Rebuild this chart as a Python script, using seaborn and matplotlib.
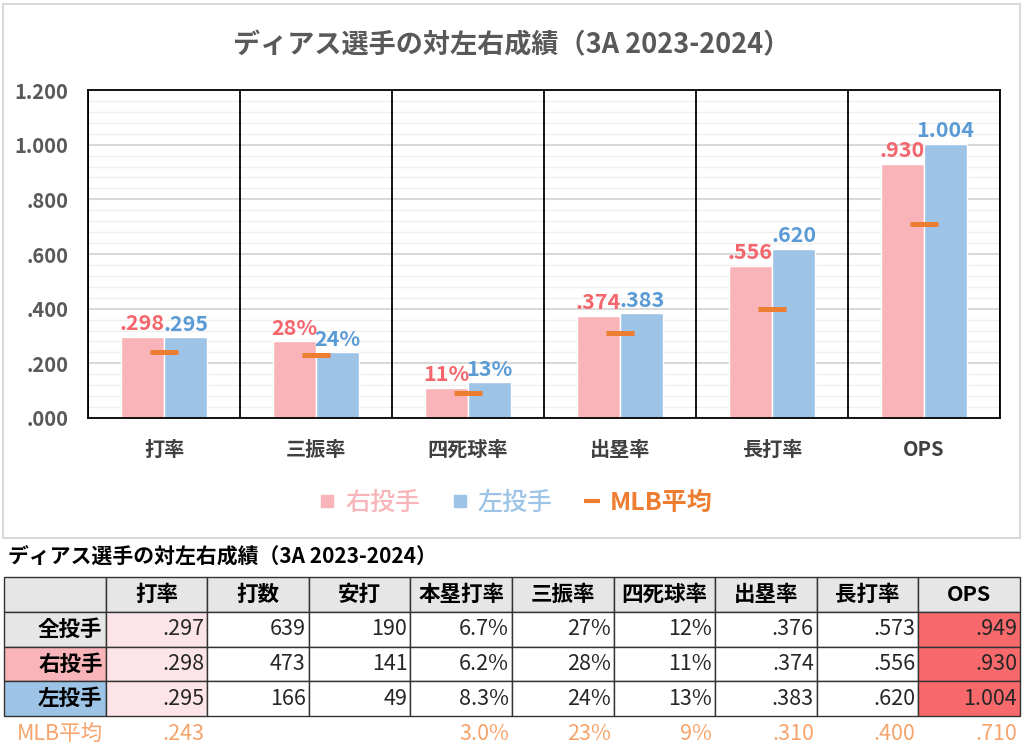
import numpy as np
import pandas as pd
import matplotlib.pyplot as plt
import seaborn as sns
from matplotlib.lines import Line2D
from matplotlib.patches import Rectangle

# Chart data
stats = ['打率', '三振率', '四死球率', '出塁率', '長打率', 'OPS']
vs_rhp = [0.298, 0.28, 0.11, 0.374, 0.556, 0.930]
vs_lhp = [0.295, 0.24, 0.13, 0.383, 0.620, 1.004]
mlb_avg = [0.243, 0.23, 0.09, 0.310, 0.400, 0.710]
pct_stats = ['三振率', '四死球率']
y_ticks = [0, 0.2, 0.4, 0.6, 0.8, 1.0, 1.2]
y_ticklabels = ['.000', '.200', '.400', '.600', '.800', '1.000', '1.200']

# Table data
tbl_cols = ['', '打率', '打数', '安打', '本塁打率', '三振率', '四死球率', '出塁率', '長打率', 'OPS']
row_all = ['全投手', '.297', '639', '190', '6.7%', '27%', '12%', '.376', '.573', '.949']
row_rhp = ['右投手', '.298', '473', '141', '6.2%', '28%', '11%', '.374', '.556', '.930']
row_lhp = ['左投手', '.295', '166', '49', '8.3%', '24%', '13%', '.383', '.620', '1.004']
row_mlb = ['MLB平均', '.243', '', '', '3.0%', '23%', '9%', '.310', '.400', '.710']

# Colours
pink = '#F8B4B8'
blue = '#9DC3E6'
red_txt = '#F4666C'
blue_txt = '#5B9BD5'
orange = '#ED7D31'
light_orange = '#F5A46C'
gray_txt = '#595959'

sns.set_theme(style='white')
plt.rcParams['font.family'] = ['Noto Sans CJK JP', 'DejaVu Sans']


def fmt(stat, v):
    # percent for rate stats, baseball style otherwise
    return f'{v:.0%}' if stat in pct_stats else f'{v:.3f}'.lstrip('0')


df = pd.DataFrame({
    '指標': stats * 2,
    '値': vs_rhp + vs_lhp,
    '投手': ['右投手'] * len(stats) + ['左投手'] * len(stats)})

fig = plt.figure(figsize=(10.24, 7.51), dpi=100)

# Light frame around chart
fig.patches.append(Rectangle((3 / 1024, 1 - 538 / 751), 1017 / 1024, 534 / 751,
                             transform=fig.transFigure, fill=False,
                             edgecolor='#D9D9D9', lw=1.5))

ax = fig.add_axes([88 / 1024, 1 - 418 / 751, 912 / 1024, 328 / 751])

sns.barplot(
    data=df, x='指標', y='値', hue='投手',
    palette={'右投手': pink, '左投手': blue},
    width=0.57, saturation=1, legend=False, ax=ax, zorder=2)

# Value labels
for cont, vals, col in zip(ax.containers, [vs_rhp, vs_lhp], [red_txt, blue_txt]):
    ax.bar_label(cont, labels=[fmt(s, v) for s, v in zip(stats, vals)],
                 color=col, fontsize=15.5, fontweight='bold', padding=2)

# MLB average markers
ax.scatter(np.arange(len(stats)), mlb_avg, marker='_', s=400,
           linewidths=3.6, color=orange, zorder=4)

# Category separators
for b in np.arange(len(stats) + 1) - 0.5:
    ax.axvline(b, color='black', lw=1.3, zorder=3)

ax.set_xlim(-0.5, len(stats) - 0.5)
ax.set_ylim(0, 1.2)
ax.set_yticks(y_ticks)
ax.set_yticklabels(y_ticklabels)
ax.set_yticks(np.arange(0, 1.2, 0.04), minor=True)
ax.grid(which='major', axis='y', color='#D9D9D9', lw=1.5)
ax.grid(which='minor', axis='y', color='#EFEFEF', lw=1)
ax.set_axisbelow(True)
ax.set_xlabel('')
ax.set_ylabel('')
ax.tick_params(axis='x', length=0, pad=15, labelsize=14.5, labelcolor='#404040')
ax.tick_params(axis='y', which='both', length=0, pad=14, labelsize=14.5, labelcolor=gray_txt)
for lbl in ax.get_xticklabels() + ax.get_yticklabels():
    lbl.set_fontweight('bold')
for sp in ax.spines.values():
    sp.set_color('black')
    sp.set_linewidth(1.3)

fig.text(0.5, 1 - 45 / 751, 'ディアス選手の対左右成績（3A 2023-2024）',
         ha='center', va='center', fontsize=19.5, fontweight='bold', color=gray_txt)

# Legend
handles = [
    Line2D([], [], marker='s', ls='none', color=pink, markersize=9),
    Line2D([], [], marker='s', ls='none', color=blue, markersize=9),
    Line2D([], [], marker='_', ls='none', color=orange, markersize=12, mew=3)]
leg = fig.legend(handles, ['右投手', '左投手', 'MLB平均'], loc='center',
                 bbox_to_anchor=(515 / 1024, 1 - 503 / 751), ncol=3, frameon=False,
                 fontsize=18, handlelength=0.8, handletextpad=0.3, columnspacing=1.2)
for t, col in zip(leg.get_texts(), [pink, blue, orange]):
    t.set_color(col)
    t.set_fontweight('medium')
leg.get_texts()[2].set_fontweight('bold')

# Table
fig.text(8 / 1024, 1 - 556 / 751, 'ディアス選手の対左右成績（3A 2023-2024）',
         ha='left', va='center', fontsize=15, fontweight='bold', color='black')

tax = fig.add_axes([4 / 1024, 0, 1016 / 1024, 174 / 751])
tax.axis('off')
tbl = tax.table(cellText=[row_all, row_rhp, row_lhp, row_mlb], colLabels=tbl_cols,
                cellLoc='right', bbox=[0, 0, 1, 1])
tbl.auto_set_font_size(False)
tbl.set_fontsize(15.5)
row_colors = {1: '#E7E6E6', 2: pink, 3: blue}
for (r, c), cell in tbl.get_celld().items():
    cell.PAD = 0.03
    cell.set_edgecolor('#333333')
    cell.set_linewidth(1)
    txt = cell.get_text()
    txt.set_color('#262626')
    if r == 0:
        cell.set_facecolor('#E7E6E6')
        cell._loc = 'center'
        txt.set_fontweight('bold')
        txt.set_color('black')
    elif r == 4:
        cell.visible_edges = 'open'
        txt.set_color(light_orange)
        if c == 0:
            cell._loc = 'left'
    elif c == 0:
        cell.set_facecolor(row_colors[r])
        cell._loc = 'center'
        txt.set_fontweight('bold')
        txt.set_color('black')
    elif c == 1:
        cell.set_facecolor('#FCE4E8')
    elif c == 9:
        cell.set_facecolor('#F8696B')

fig.savefig('out.png', dpi=100)
